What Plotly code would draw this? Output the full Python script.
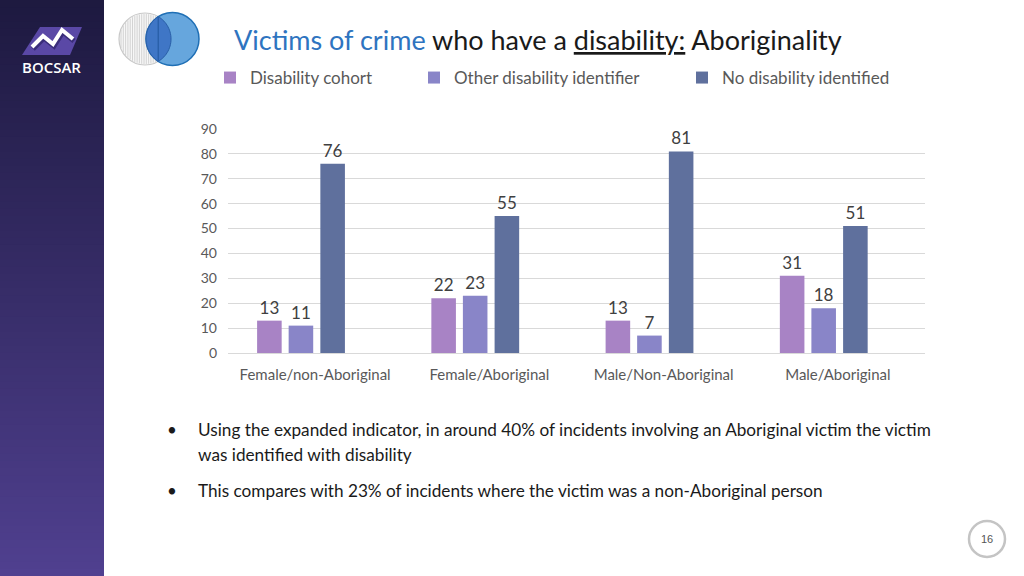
import math
import plotly.graph_objects as go

W, H = 1024, 576

categories = ["Female/non-Aboriginal", "Female/Aboriginal", "Male/Non-Aboriginal", "Male/Aboriginal"]
series_names = ["Disability cohort", "Other disability identifier", "No disability identified"]
disability_cohort = [13, 22, 13, 31]
other_identifier = [11, 23, 7, 18]
no_disability = [76, 55, 81, 51]
y_ticks = [0, 10, 20, 30, 40, 50, 60, 70, 80, 90]

colors = ["#a883c5", "#8985c8", "#5f709d"]
bar_offsets = [-0.333, -0.152, 0.030]
BAR_W = 0.141
FONT = "Lato"


def px(x):
    return x / W


def py(y):
    return 1 - y / H


fig = go.Figure()
values = [disability_cohort, other_identifier, no_disability]
legend_ids = ["legend", "legend2", "legend3"]
for name, vals, col, lg, off in zip(series_names, values, colors, legend_ids, bar_offsets):
    fig.add_trace(go.Bar(
        x=categories, y=vals, name=name, marker=dict(color=col, line=dict(width=0)),
        offset=off, width=BAR_W,
        text=[str(v) for v in vals], textposition="outside", cliponaxis=False,
        textfont=dict(family=FONT, size=17, color="#404040"), legend=lg,
    ))

shapes = []
# sidebar gradient (stacked rects, each to the bottom, to avoid seams)
N = 80
top = (30, 26, 64)
bot = (80, 64, 144)
for i in range(N):
    t = i / (N - 1)
    c = tuple(int(top[k] + (bot[k] - top[k]) * t) for k in range(3))
    shapes.append(dict(type="rect", xref="paper", yref="paper",
                       x0=0, x1=px(104), y0=0, y1=py(H * i / N),
                       fillcolor="rgb(%d,%d,%d)" % c, line=dict(width=0), layer="below"))


def path(points):
    return "M " + " L ".join("%f,%f" % (px(x), py(y)) for x, y in points) + " Z"


def openpath(points):
    return "M " + " L ".join("%f,%f" % (px(x), py(y)) for x, y in points)


# BOCSAR logo
shapes.append(dict(type="path", xref="paper", yref="paper",
                   path=path([(40, 27), (82, 27), (70, 55), (22, 55)]),
                   fillcolor="#5a48a6", line=dict(width=0)))
shapes.append(dict(type="path", xref="paper", yref="paper",
                   path=openpath([(33, 49), (44, 38), (54, 46), (63, 32), (74, 41)]),
                   line=dict(color="#3a2d7a", width=5)))
shapes.append(dict(type="path", xref="paper", yref="paper",
                   path=openpath([(32, 47), (43, 36), (53, 44), (62, 30), (73, 39)]),
                   line=dict(color="white", width=4)))

# Venn diagram
cx1, cy1, r1 = 145, 39, 26
cx2, cy2, r2 = 172.5, 39, 26.5
shapes.append(dict(type="circle", xref="paper", yref="paper",
                   x0=px(cx1 - r1), x1=px(cx1 + r1), y0=py(cy1 + r1), y1=py(cy1 - r1),
                   fillcolor="#f7f7f7", line=dict(color="#c8c8c8", width=1.2)))
xx = cx1 - r1 + 2
while xx < cx1 + r1 - 1:
    dy = math.sqrt(max(r1 ** 2 - (xx - cx1) ** 2, 0)) - 1
    shapes.append(dict(type="line", xref="paper", yref="paper",
                       x0=px(xx), x1=px(xx), y0=py(cy1 + dy), y1=py(cy1 - dy),
                       line=dict(color="#c9c9c9", width=0.8)))
    xx += 2.3
shapes.append(dict(type="circle", xref="paper", yref="paper",
                   x0=px(cx2 - r2), x1=px(cx2 + r2), y0=py(cy2 + r2), y1=py(cy2 - r2),
                   fillcolor="rgba(75,150,215,0.85)", line=dict(color="#1f6fb5", width=1.5)))
d = cx2 - cx1
a = (d ** 2 + r1 ** 2 - r2 ** 2) / (2 * d)
lens = []
n = 30
ang1 = math.acos(a / r1)
for i in range(n + 1):
    t = -ang1 + 2 * ang1 * i / n
    lens.append((cx1 + r1 * math.cos(t), cy1 + r1 * math.sin(t)))
ang2 = math.acos((d - a) / r2)
for i in range(n + 1):
    t = math.pi - ang2 + 2 * ang2 * i / n
    lens.append((cx2 + r2 * math.cos(t), cy2 - r2 * math.sin(t)))
shapes.append(dict(type="path", xref="paper", yref="paper", path=path(lens),
                   fillcolor="#3f76c6", line=dict(color="#2a5fa8", width=1)))

# page number circle
shapes.append(dict(type="circle", xref="paper", yref="paper",
                   x0=px(969), x1=px(1005), y0=py(557), y1=py(521),
                   fillcolor="white", line=dict(color="#c4c4c4", width=2.5)))

annotations = [
    dict(text="BOCSAR", x=px(51), y=py(67), xref="paper", yref="paper", showarrow=False,
         font=dict(family="Open Sans", size=15, color="white", weight=600),
         xanchor="center", yanchor="middle"),
    dict(text="<span style='color:#2e74c0'>Victims of crime</span> who have a <u>disability:</u> Aboriginality",
         x=px(232), y=py(40), xref="paper", yref="paper", showarrow=False, xanchor="left", yanchor="middle",
         font=dict(family=FONT, size=27, color="#1a1a1a")),
    dict(text="16", x=px(987), y=py(539), xref="paper", yref="paper", showarrow=False,
         xanchor="center", yanchor="middle",
         font=dict(family="Liberation Sans", size=11, color="#555555")),
]
bullets = [
    (429, "•", "Using the expanded indicator, in around 40% of incidents involving an Aboriginal victim the victim"),
    (454, None, "was identified with disability"),
    (490, "•", "This compares with 23% of incidents where the victim was a non-Aboriginal person"),
]
for y, b, t in bullets:
    if b:
        annotations.append(dict(text=b, x=px(172), y=py(y), xref="paper", yref="paper", showarrow=False,
                                xanchor="center", yanchor="middle",
                                font=dict(family=FONT, size=17, color="#1a1a1a")))
    annotations.append(dict(text=t, x=px(196), y=py(y), xref="paper", yref="paper", showarrow=False,
                            xanchor="left", yanchor="middle",
                            font=dict(family=FONT, size=17.2, color="#1a1a1a")))

legend_text_x = [248, 452, 720]
legend_common = dict(orientation="h", yref="paper", xref="paper", yanchor="middle", xanchor="left",
                     font=dict(family=FONT, size=17, color="#595959"), bgcolor="rgba(0,0,0,0)",
                     itemwidth=30, tracegroupgap=0, borderwidth=0)
layout_legends = {}
for lg, lx in zip(legend_ids, legend_text_x):
    layout_legends[lg] = dict(legend_common, x=px(lx - 38), y=py(78))

fig.update_layout(
    width=W, height=H, margin=dict(l=0, r=0, t=0, b=0, autoexpand=False),
    paper_bgcolor="white", plot_bgcolor="white",
    barmode="group",
    xaxis=dict(domain=[px(228), px(925)], showline=True, linecolor="#d9d9d9", linewidth=1,
               ticks="", tickfont=dict(family=FONT, size=15, color="#595959"), ticklabelstandoff=8,
               automargin=False),
    yaxis=dict(domain=[py(353), py(129)], range=[0, 90], tickvals=y_ticks, showgrid=True,
               gridcolor="#d9d9d9", gridwidth=1, zeroline=False, showline=False,
               tickfont=dict(family=FONT, size=14, color="#595959"), ticklabelstandoff=10,
               automargin=False),
    shapes=shapes, annotations=annotations, showlegend=True,
    **layout_legends,
)

fig.write_html("out.html", config=dict(displayModeBar=False),
               post_script="document.body.style.margin='0';document.body.style.overflow='hidden';")
